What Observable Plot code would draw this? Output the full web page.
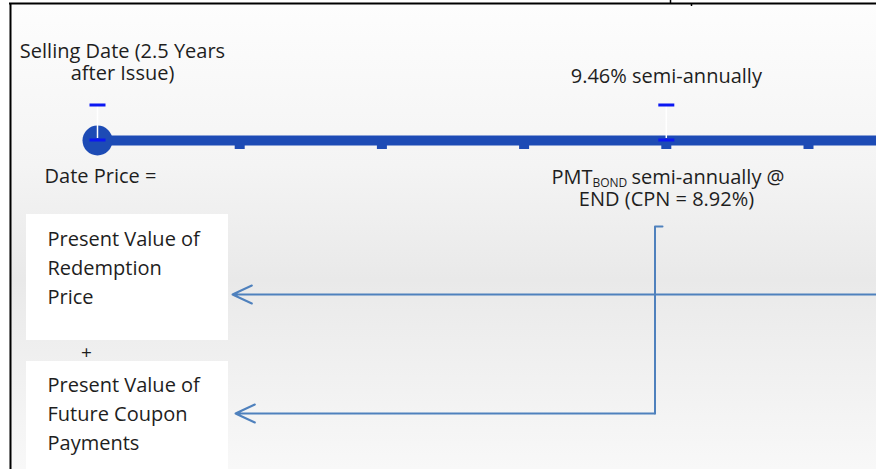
<!DOCTYPE html>
<html>
<head>
<meta charset="utf-8">
<script src="https://cdn.jsdelivr.net/npm/d3@7"></script>
<script src="https://cdn.jsdelivr.net/npm/@observablehq/plot@0.6"></script>
<style>
  html, body { margin: 0; padding: 0; background: #fff; }
  #chart { width: 876px; height: 469px; overflow: hidden; }
</style>
</head>
<body>
<div id="chart"></div>
<script>
// ---------- data ----------
const periods = [0, 1, 2, 3, 4, 5];                 // semi-annual periods on the time line
const markedPeriods = [0, 4];                         // selling date, coupon-payment marker
const topLabels = ["Selling Date (2.5 Years\nafter Issue)", "9.46% semi-annually"];
const pmtMain = "PMT";
const pmtSub = "BOND";
const pmtRest = "semi-annually @";
const pmtLine2 = "END (CPN = 8.92%)";
const dateLabel = "Date Price =";
const boxLabels = ["Present Value of\nRedemption\nPrice", "Present Value of\nFuture Coupon\nPayments"];
const plusLabel = "+";

// ---------- layout (period units on x, pixel-like units on y) ----------
const X0 = 97, STEP = 142.2, W = 876, H = 469;
const P = (px) => (px - X0) / STEP;   // convert layout px to period units
const FONT = "'Open Sans', 'Noto Sans', sans-serif";
const TXT = "#1e1e1e";
const LINE = "#1d4bb5";
const DASH = "#0b17f2";
const ARROW = "#4f81bd";

const boxes = [
  {x1: P(26), x2: P(228), y1: 214, y2: 340, label: boxLabels[0], ty: 303},
  {x1: P(26), x2: P(228), y1: 361, y2: 480, label: boxLabels[1], ty: 449}
];

const dash = {draw(ctx) { ctx.rect(-8, -1.5, 16, 3); }};

const chart = Plot.plot({
  width: W,
  height: H,
  margin: 0,
  x: {domain: [P(0), P(W)], range: [0, W], axis: null},
  y: {domain: [0, H], range: [0, H], axis: null},
  style: {
    background: "linear-gradient(to right, #fff 0 9px, transparent 9px), linear-gradient(to bottom, #fff 0 2px, #fdfdfd 2px, #f4f4f4 165px, #e9e9e9 280px, #ebebeb 300px, #f8f8f8 469px)",
    fontFamily: FONT
  },
  marks: [
    // frame
    Plot.ruleX([P(10)], {y1: 3, y2: H, stroke: "#000", strokeWidth: 2}),
    Plot.ruleY([3], {x1: P(9), x2: P(W), stroke: "#000", strokeWidth: 2}),
    Plot.ruleX([P(670)], {y1: 0, y2: 3, stroke: "#000", strokeWidth: 1.5}),
    Plot.ruleX([P(691)], {y1: 3, y2: 6, stroke: "#000", strokeWidth: 1.5}),

    // white boxes
    Plot.rect(boxes, {x1: "x1", x2: "x2", y1: "y1", y2: "y2", fill: "#fff"}),

    // time line
    Plot.ruleY([140], {x1: 0, x2: P(W), stroke: LINE, strokeWidth: 10}),
    Plot.ruleX(periods, {y1: 144, y2: 149, stroke: LINE, strokeWidth: 10}),
    Plot.dot([0], {x: d => d, y: 140, r: 15, fill: LINE}),

    // markers
    Plot.ruleX(markedPeriods, {y1: 106, y2: 138, stroke: "#fff", strokeWidth: 1.5}),
    Plot.dot(markedPeriods, {x: d => d, y: 104.5, fill: DASH, symbol: dash}),
    Plot.dot(markedPeriods, {x: d => d, y: 139.5, fill: DASH, symbol: dash}),

    // arrows
    Plot.arrow([0], {x1: P(W + 2), y1: 294, x2: P(232), y2: 294, stroke: ARROW, strokeWidth: 2, headLength: 16, headAngle: 50}),
    Plot.line([[P(662), 226], [P(654.5), 226], [P(654.5), 413]], {x: d => d[0], y: d => d[1], stroke: ARROW, strokeWidth: 2, curve: "linear"}),
    Plot.arrow([0], {x1: P(654.5), y1: 413, x2: P(235), y2: 413, stroke: ARROW, strokeWidth: 2, headLength: 16, headAngle: 50}),

    // texts above the line
    Plot.text([topLabels[0]], {x: P(122), y: 79, text: d => d, fontSize: 20, lineHeight: 1.1, lineAnchor: "bottom", textAnchor: "middle", fill: TXT}),
    Plot.text([topLabels[1]], {x: 4, y: 82, text: d => d, fontSize: 20, lineAnchor: "bottom", textAnchor: "middle", fill: TXT}),

    // texts below the line
    Plot.text([dateLabel], {x: P(44), y: 182, text: d => d, fontSize: 20, lineAnchor: "bottom", textAnchor: "start", fill: TXT}),
    Plot.text([pmtMain], {x: P(551), y: 183, text: d => d, fontSize: 20, lineAnchor: "bottom", textAnchor: "start", fill: TXT}),
    Plot.text([pmtSub], {x: P(592), y: 186, text: d => d, fontSize: 12, lineAnchor: "bottom", textAnchor: "start", fill: TXT}),
    Plot.text([pmtRest], {x: P(631), y: 183, text: d => d, fontSize: 20, lineAnchor: "bottom", textAnchor: "start", fill: TXT}),
    Plot.text([pmtLine2], {x: P(666), y: 205, text: d => d, fontSize: 20, lineAnchor: "bottom", textAnchor: "middle", fill: TXT}),

    // box texts
    Plot.text(boxes, {x: P(47), y: "ty", text: "label", fontSize: 20, lineHeight: 1.45, lineAnchor: "bottom", textAnchor: "start", fill: TXT}),
    Plot.text([plusLabel], {x: P(86), y: 352, text: d => d, fontSize: 19, lineAnchor: "middle", textAnchor: "middle", fill: TXT})
  ]
});

document.getElementById("chart").append(chart);
</script>
</body>
</html>
